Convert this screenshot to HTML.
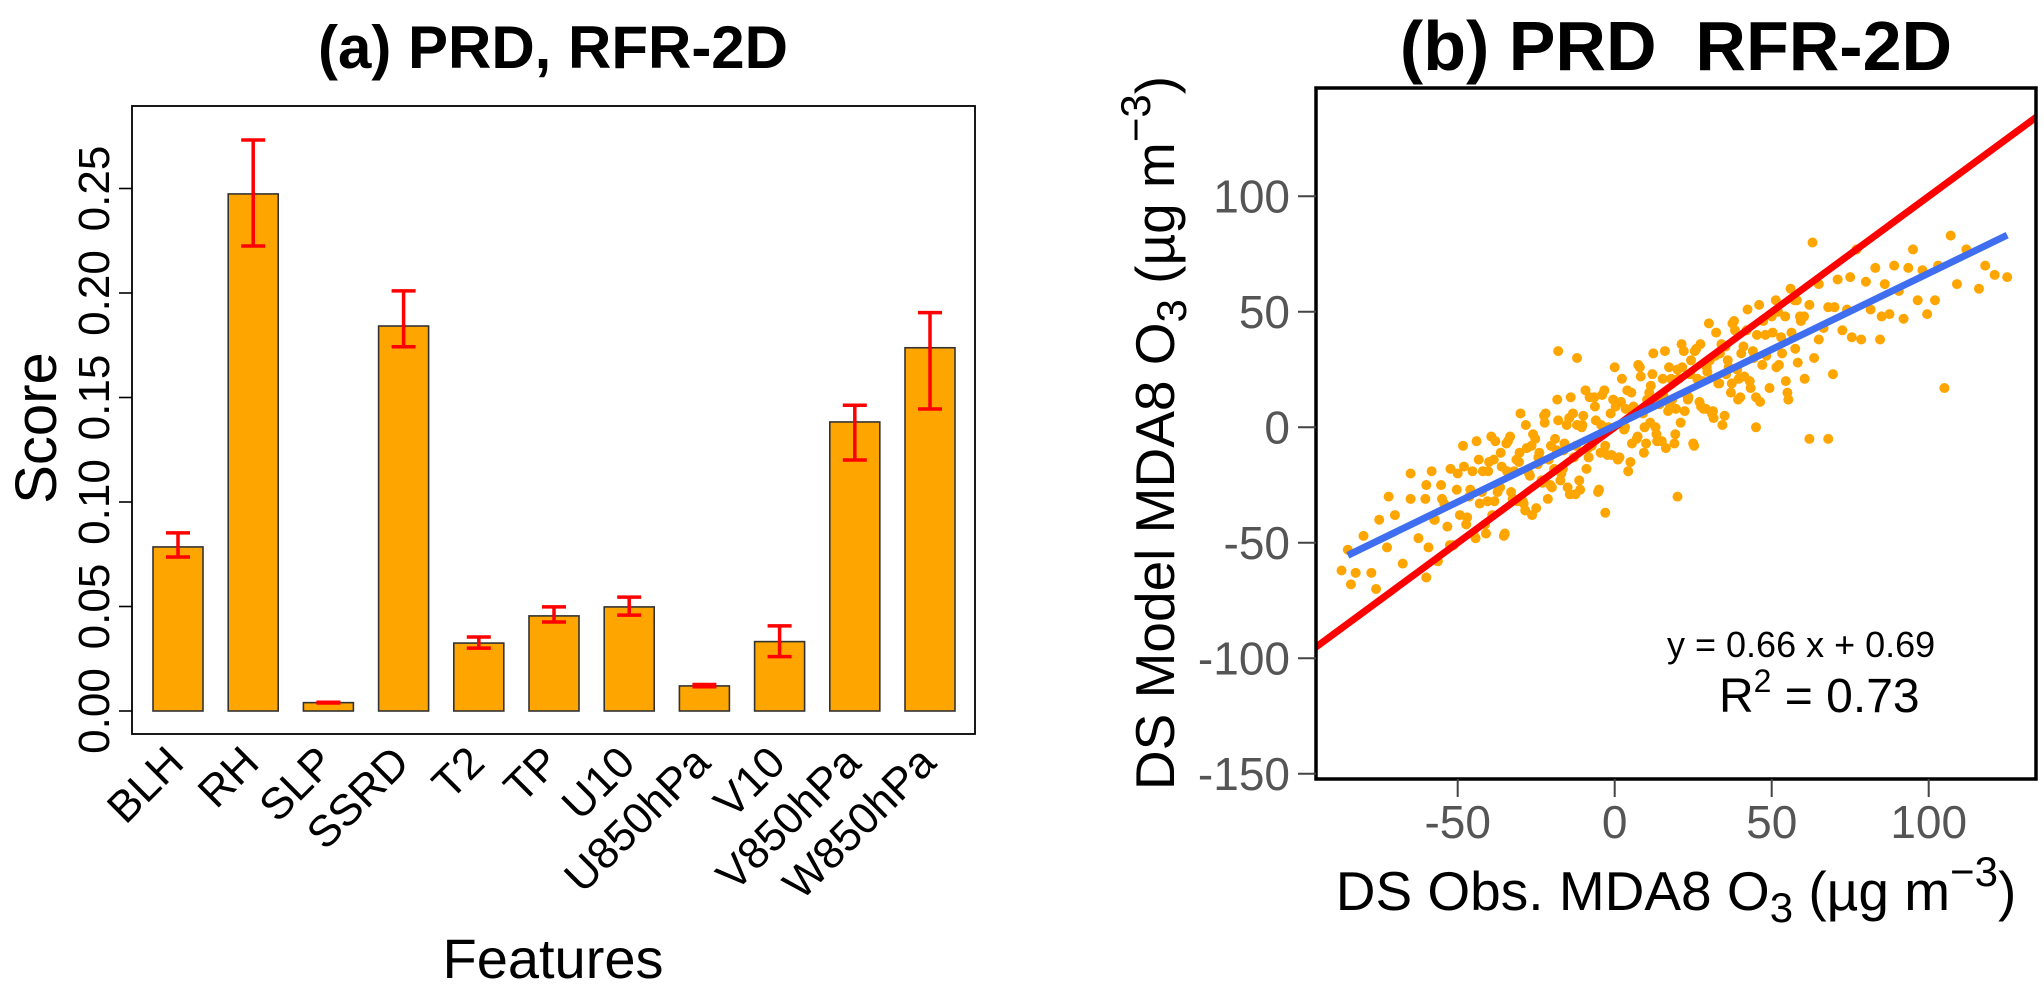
<!DOCTYPE html>
<html><head><meta charset="utf-8">
<style>
html,body{margin:0;padding:0;background:#fff;}
svg{display:block;font-family:"Liberation Sans",Arial,sans-serif;}
</style></head>
<body>
<svg id="chart" width="2044" height="984" viewBox="0 0 2044 984" xmlns="http://www.w3.org/2000/svg">
<g id="panelA"></g>
<g id="panelB"></g>
</svg>
<script>
// ---------- Panel (a) data ----------
const features = ["BLH","RH","SLP","SSRD","T2","TP","U10","U850hPa","V10","V850hPa","W850hPa"];
const scores   = [0.0785,0.2474,0.0040,0.1842,0.0325,0.0455,0.0498,0.0120,0.0332,0.1383,0.1738];
const errHigh  = [0.0852,0.2732,0.0042,0.2010,0.0354,0.0498,0.0545,0.0127,0.0407,0.1463,0.1906];
const errLow   = [0.0737,0.2225,0.0038,0.1743,0.0301,0.0426,0.0459,0.0116,0.0260,0.1201,0.1445];
const yTicksA  = [0.00,0.05,0.10,0.15,0.20,0.25];
const yTickLabelsA = ["0.00","0.05","0.10","0.15","0.20","0.25"];

// ---------- Panel (b) data ----------
const obsX = [-85,-82.5,-80,-77.5,-75,-72.5,-70,-67.5,-65,-62.5,-60,-57.5,-55,-52.5,-50,
-48,-47,-46,-45,-44,-43,-42,-41,-40,-39,-38,-37,-36,-35,-34,-33,-32,-31,-30,-29,-28,-27,-26,-25,-24,-23,-22,-21,-20,-19,
-18,-17,-16,-15,-14,-13,-12,-11,-10,-9,-8,-7,-6,-5,-4,-3,-2,-1,0,1,2,3,4,5,6,7,8,9,10,11,
12,13,14,15,16,17,18,19,20,21,22,23,24,25,26,27,28,29,30,31,32,33,34,35,36,37,38,39,40,41,42,43,44,45,46,47,48,
-40.5,-38.5,-36.5,-34.5,-32.5,-30.5,-28.5,-26.5,-24.5,-22.5,-20.5,-18.5,-16.5,-14.5,-12.5,-10.5,-8.5,-6.5,-4.5,-2.5,-0.5,
1.5,3.5,5.5,7.5,9.5,11.5,13.5,15.5,17.5,19.5,21.5,23.5,25.5,27.5,29.5,31.5,33.5,35.5,37.5,39.5,
50,51.5,53,54.5,56,57.5,59,60.5,62,63.5,65,66.5,68,69.5,71,72.5,74,75.5,77,78.5,80,81.5,83,84.5,86,87.5,89,90.5,92,93.5,95,96.5,98,99.5,
103,105,107,109,112,116,118,121,125,102,62,68,20,-3,-60,-87,-84,-76,63,-18,-12,45,55,-65,-72,52,58,65,70,75,85,
-60.3,-59.3,-58.3,-57.3,-56.3,-55.3,-54.3,-53.3,-52.3,-51.3,-50.3,-49.3,-48.3,-47.3,-46.3,-45.3,-44.3,-43.3,-42.3,-41.3,
-40.3,-39.3,-38.3,-37.3,-36.3,-35.3,-34.3,-33.3,-32.3,-31.3,-30.3,-29.3,-28.3,-27.3,-26.3,-25.3,-24.3,-23.3,-22.3,-21.3,
-20.3,-19.3,-18.3,-17.3,-16.3,-15.3,-14.3,-13.3,-12.3,-11.3,-10.3,-9.3,-8.3,-7.3,-6.3,-5.3,-4.3,-3.3,-2.3,-1.3,
0.3,1.3,2.3,3.3,4.3,5.3,6.3,7.3,8.3,9.3,10.3,11.3,12.3,13.3,14.3,15.3,16.3,17.3,18.3,19.3,
20.3,21.3,22.3,23.3,24.3,25.3,26.3,27.3,28.3,29.3,30.3,31.3,32.3,33.3,34.3,35.3,36.3,37.3,38.3,39.3,
40.3,41.3,42.3,43.3,44.3,45.3,46.3,47.3,48.3,49.3,50.3,51.3,52.3,53.3,54.3,55.3,56.3,57.3,58.3,59.3,60.3];
const modelY = [-53,-63,-47,-63,-40,-52,-38,-59,-31,-48,-25,-40,-31,-51,-20,
-17,-39,-27,-46,-6,-33,-19,-46,-15,-38,-6,-26,-17,-46,-6,-28,-19,-32,6,-33,-9,-21,-3,-35,-11,-24,6,-14,-26,-5,
3,-20,-7,-26,13,-13,1,-27,5,-18,13,-6,3,-27,14,-8,0,-12,26,-14,11,-1,16,-15,9,-5,26,6,-7,15,
23,0,13,-6,33,7,21,-7,25,2,33,14,23,-7,34,11,20,8,45,6,31,19,36,5,29,15,46,25,13,35,42,20,33,13,53,27,40,
-32,-14,-26,-7,-31,-15,-36,-8,-16,5,-25,-10,-18,4,-29,0,-9,13,-11,-1,12,
-13,8,-7,27,0,18,-6,14,10,8,26,13,33,9,24,4,32,23,45,21,
48,26,39,20,60,34,48,21,53,30,62,43,52,23,64,42,51,39,77,38,63,51,69,38,62,49,70,59,47,69,77,55,68,49,
70,17,83,62,77,60,70,66,65,55,-5,-5,-30,-37,-65,-62,-68,-70,80,33,30,0,15,-20,-30,50,55,38,52,65,48,
-31,-52,-19,-40,-58,-25,-33,-43,-18,-51,-27,-38,-8,-42,-30,-19,-48,-14,-28,-42,
-19,-4,-32,-28,-11,-47,-19,-4,-31,-14,-11,-32,1,-20,-38,-5,-13,-23,2,-31,
-8,-18,12,-23,-10,1,-29,6,-8,-23,1,16,-13,-8,9,-28,1,16,-12,6,
9,-13,21,0,-19,15,7,-4,22,-11,12,2,32,-3,10,21,-9,26,12,-3,
21,36,7,12,29,-8,21,36,8,26,29,7,41,19,1,35,26,19,42,12,
32,22,51,17,30,40,11,46,31,17,41,55,27,32,48,12,41,55,28,46,48];
const fitSlope = [0.66];
const fitIntercept = [0.69];
const fitRange = [-85,125];
const oneToOne = [-100,140];
const xTicksB = [-50,0,50,100];
const yTicksB = [-150,-100,-50,0,50,100];

const NS="http://www.w3.org/2000/svg";
function mk(parent,tag,attrs,text){const e=document.createElementNS(NS,tag);for(const k in attrs)e.setAttribute(k,attrs[k]);if(text!==undefined)e.textContent=text;parent.appendChild(e);return e;}

// ---------- Panel (a) ----------
const A=document.getElementById('panelA');
const aL=132,aR=975,aT=106,aB=734;
const yA=v=>711-v*2090;
const barX=i=>153+75.2*i, barW=50;

let t=mk(A,'text',{x:553,y:68,'text-anchor':'middle','font-size':60,'font-weight':'bold'},'(a) PRD, RFR-2D');



features.forEach((f,i)=>{
  const x=barX(i);
  const r=mk(A,'rect',{x:x,y:yA(scores[i]),width:barW,height:yA(0)-yA(scores[i]),fill:'#FFA500',stroke:'#333','stroke-width':1.6});
  
  
  const cx=x+barW/2;
  const g=mk(A,'g',{stroke:'#ff0000','stroke-width':3.5});
  
  
  mk(g,'line',{x1:cx,x2:cx,y1:yA(errLow[i]),y2:yA(errHigh[i])});
  mk(g,'line',{x1:cx-12,x2:cx+12,y1:yA(errLow[i]),y2:yA(errLow[i])});
  mk(g,'line',{x1:cx-12,x2:cx+12,y1:yA(errHigh[i]),y2:yA(errHigh[i])});
  const lab=mk(A,'text',{x:cx+8,y:765,'text-anchor':'end','font-size':44,transform:`rotate(-45 ${cx+8} 765)`},f);
  
  
});
const fa=mk(A,'rect',{x:aL,y:aT,width:aR-aL,height:aB-aT,fill:'none',stroke:'#000','stroke-width':1.8});


yTicksA.forEach((v,i)=>{
  const y=yA(v);
  const tk=mk(A,'line',{x1:aL-13,x2:aL,y1:y,y2:y,stroke:'#000','stroke-width':1.6});
  
  
  const tl=mk(A,'text',{x:109,y:y,'text-anchor':'middle','font-size':44,transform:`rotate(-90 109 ${y})`},yTickLabelsA[i]);
  
  
});
t=mk(A,'text',{x:56,y:428,'text-anchor':'middle','font-size':58,transform:'rotate(-90 56 428)'},'Score');


t=mk(A,'text',{x:553,y:978,'text-anchor':'middle','font-size':56},'Features');



// ---------- Panel (b) ----------
const B=document.getElementById('panelB');
const bL=1316,bR=2036,bT=88,bB=779;
const xB=v=>1614.7+v*3.14;
const yB=v=>427.3-v*2.31;
t=mk(B,'text',{x:1676,y:70,'text-anchor':'middle','font-size':70,'font-weight':'bold'},'(b) PRD\u00a0\u00a0RFR-2D');


const clip=mk(B,'clipPath',{id:'clipB'});mk(clip,'rect',{x:bL,y:bT,width:bR-bL,height:bB-bT});
const pts=mk(B,'g',{fill:'#FFA500','clip-path':'url(#clipB)'});


obsX.forEach((x,i)=>{
  const c=mk(pts,'circle',{cx:xB(x),cy:yB(modelY[i]),r:5});
  
  
});
const lg=mk(B,'g',{'clip-path':'url(#clipB)'});
let ln=mk(lg,'line',{x1:xB(oneToOne[0]),y1:yB(oneToOne[0]),x2:xB(oneToOne[1]),y2:yB(oneToOne[1]),stroke:'#ff0000','stroke-width':7});


ln=mk(lg,'line',{x1:xB(fitRange[0]),y1:yB(fitSlope[0]*fitRange[0]+fitIntercept[0]),x2:xB(fitRange[1]),y2:yB(fitSlope[0]*fitRange[1]+fitIntercept[0]),stroke:'#3F6FF0','stroke-width':7});


const fb=mk(B,'rect',{x:bL,y:bT,width:bR-bL,height:bB-bT,fill:'none',stroke:'#000','stroke-width':3.5});


xTicksB.forEach(v=>{
  const x=xB(v);
  const tk=mk(B,'line',{x1:x,x2:x,y1:bB,y2:bB+18,stroke:'#444','stroke-width':2});
  
  
  const tl=mk(B,'text',{x:x,y:838,'text-anchor':'middle','font-size':46,fill:'#555'},String(v));
  
  
});
yTicksB.forEach(v=>{
  const y=yB(v);
  const tk=mk(B,'line',{x1:bL-18,x2:bL,y1:y,y2:y,stroke:'#444','stroke-width':2});
  
  
  const tl=mk(B,'text',{x:1290,y:y+16,'text-anchor':'end','font-size':46,fill:'#555'},String(v));
  
  
});
t=mk(B,'text',{x:1676,y:910,'text-anchor':'middle','font-size':55});
t.innerHTML='DS Obs. MDA8 O<tspan dy="12" font-size="42">3</tspan><tspan dy="-12"> (µg m</tspan><tspan dy="-24" font-size="42">−3</tspan><tspan dy="24">)</tspan>';


t=mk(B,'text',{x:1174,y:433,'text-anchor':'middle','font-size':55,transform:'rotate(-90 1174 433)'});
t.innerHTML='DS Model MDA8 O<tspan dy="12" font-size="42">3</tspan><tspan dy="-12"> (µg m</tspan><tspan dy="-24" font-size="42">−3</tspan><tspan dy="24">)</tspan>';


t=mk(B,'text',{x:1667,y:657,'font-size':36,'xml:space':'preserve'},'y =  0.66 x + 0.69');


t=mk(B,'text',{x:1719,y:712,'font-size':48});
t.innerHTML='R<tspan dy="-20" font-size="32">2</tspan><tspan dy="20"> =  0.73</tspan>';


</script>
</body></html>
